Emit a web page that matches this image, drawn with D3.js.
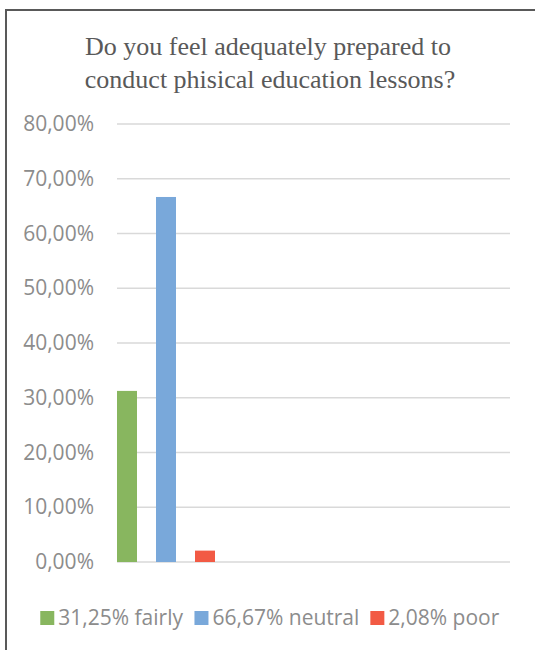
<html>
<script src="https://d3js.org/d3.v7.min.js"></script>
<style>
    body { margin: 0; background: #fff; }
    .frame { fill: none; stroke: #595959; stroke-width: 2px; }
    .title { font-family: "Liberation Serif", "Times New Roman", serif; font-size: 26px; fill: #595959; text-anchor: middle; }
    .axis text { font-family: "Open Sans", "Liberation Sans", sans-serif; font-size: 21px; fill: #8c8c8c; }
    .axis path, .axis line { display: none; }
    .grid line { stroke: #d9d9d9; stroke-width: 1.5px; }
    .legend text { font-family: "Open Sans", "Liberation Sans", sans-serif; font-size: 21px; fill: #8c8c8c; }
</style>
<body>
<svg width=535 height=650></svg>
<script>
    const seriesNames = ['fairly', 'neutral', 'poor'];
    const values = [31.25, 66.67, 2.08];
    const legendLabels = ['31,25% fairly', '66,67% neutral', '2,08% poor'];
    const colors = ['#88b65f', '#79a8da', '#f25a44'];
    const yTicks = [0, 10, 20, 30, 40, 50, 60, 70, 80];

    let svg = d3.select('svg');

    svg.append('rect').attr('class', 'frame')
        .attr('x', 6).attr('y', 10).attr('width', 540).attr('height', 660);

    svg.append('text').attr('class', 'title')
        .attr('x', 268).attr('y', 55)
        .text('Do you feel adequately prepared to');
    svg.append('text').attr('class', 'title')
        .attr('x', 270).attr('y', 88)
        .text('conduct phisical education lessons?');

    let plotLeft = 117, plotRight = 510;
    let y = d3.scaleLinear().domain([0, 80]).range([562, 124]);
    let x = d3.scaleBand().domain(seriesNames)
        .range([plotLeft, plotLeft + 98])
        .paddingInner(19 / 39).paddingOuter(0);

    svg.append('g').attr('class', 'grid')
        .selectAll('line').data(yTicks).enter().append('line')
        .attr('x1', plotLeft).attr('x2', plotRight)
        .attr('y1', d => y(d)).attr('y2', d => y(d));

    svg.append('g').attr('class', 'axis')
        .attr('transform', 'translate(' + (plotLeft - 20) + ',0)')
        .call(d3.axisLeft(y).tickValues(yTicks).tickSize(0)
            .tickFormat(d => d3.format('.2f')(d).replace('.', ',') + '%'));

    svg.selectAll('.bar').data(values).enter().append('rect')
        .attr('class', 'bar')
        .attr('x', (d, i) => x(seriesNames[i]))
        .attr('width', x.bandwidth())
        .attr('y', d => y(d))
        .attr('height', d => y(0) - y(d))
        .attr('fill', (d, i) => colors[i]);

    // legend, laid out by measured text widths
    let legend = svg.append('g').attr('class', 'legend');
    let items = legend.selectAll('g').data(legendLabels).enter().append('g');
    items.append('rect').attr('width', 14).attr('height', 14).attr('y', -14)
        .attr('fill', (d, i) => colors[i]);
    items.append('text').attr('x', 18).attr('y', 0).text(d => d);
    let xpos = 0;
    items.each(function() {
        let w = this.getBBox().width;
        d3.select(this).attr('transform', 'translate(' + xpos + ',0)');
        xpos += w + 11;
    });
    let total = xpos - 11;
    legend.attr('transform', 'translate(' + (270 - total / 2) + ',625)');
</script>
</body>
</html>
